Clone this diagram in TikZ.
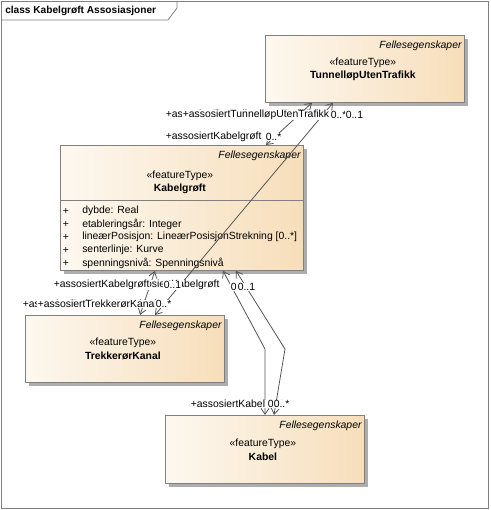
\documentclass[tikz,border=0pt]{standalone}
\usepackage{fontspec}
\setmainfont{Liberation Sans}
\usetikzlibrary{calc,shadows,arrows.meta}

\definecolor{boxleft}{RGB}{253,248,240}
\definecolor{boxright}{RGB}{247,222,186}
\definecolor{boxline}{RGB}{128,128,128}
\definecolor{assocline}{RGB}{85,85,85}
\newcommand{\umlfont}{\fontsize{7.8}{9.5}\selectfont}

\begin{document}
\begin{tikzpicture}[x=0.75pt,y=-0.75pt,font=\umlfont]

	\tikzstyle{classbox}=[draw=boxline,line width=0.6pt,left color=boxleft,right color=boxright,minimum width=199*0.75pt,minimum height=67*0.75pt,anchor=north west,inner sep=0pt,drop shadow={shadow xshift=2.4pt,shadow yshift=-2.4pt,fill=black!32,opacity=1}]
	\tikzstyle{pkg}=[font=\umlfont\itshape,anchor=east,inner sep=0pt]
	\tikzstyle{cname}=[font=\umlfont\bfseries,inner sep=0pt]
	\tikzstyle{assoc}=[assocline,line width=0.6pt,{Straight Barb[length=4.5pt,width=6pt]}-{Straight Barb[length=4.5pt,width=6pt]}]
	\tikzstyle{role}=[anchor=west,fill=white,inner sep=0.4pt]

	\useasboundingbox (0,0) rectangle (490,510);
	\fill[white] (0,0) rectangle (490,510);
	\draw[boxline,line width=0.6pt] (1,1) rectangle (488,508);
	\draw[boxline,line width=0.6pt] (1,20) -- (168,20) -- (177,8) -- (177,1);
	\node[anchor=west,inner sep=0pt,font=\fontsize{7.6}{9}\selectfont\bfseries] (title) at (5,11) {class Kabelgrøft Assosiasjoner};

	\node[classbox] (tunnel) at (265,35) {};
	\node[classbox,minimum width=243*0.75pt,minimum height=125*0.75pt] (kabelgroft) at (60,145) {};
	\node[classbox] (trekkeror) at (25,315) {};
	\node[classbox,minimum height=68*0.75pt] (kabel) at (165,415) {};

	\foreach \b/\n/\d in {tunnel/TunnelløpUtenTrafikk/0,kabelgroft/Kabelgrøft/3,trekkeror/TrekkerørKanal/0,kabel/Kabel/1}{
		\node[pkg] (\b-pkg) at ($(\b.north east)+(-3,11)$) {Fellesegenskaper};
		\node[inner sep=0pt] (\b-st) at ($(\b.north)+(-2,28+\d)$) {«featureType»};
		\node[cname] (\b-name) at ($(\b.north)+(-2,41+\d)$) {\n};
	}

	\draw[boxline,line width=0.6pt] ($(kabelgroft.north west)+(0,55)$) -- ($(kabelgroft.north east)+(0,55)$);
	\foreach \a [count=\i] in {{dybde: Real},{etableringsår: Integer},{lineærPosisjon: LineærPosisjonStrekning [0..*]},{senterlinje: Kurve},{spenningsnivå: Spenningsnivå}}{
		\node[inner sep=0pt] (plus\i) at ($(kabelgroft.north west)+(6,53+13*\i)$) {+};
		\node[anchor=west,inner sep=0pt] (attr\i) at ($(kabelgroft.north west)+(22,53+13*\i)$) {\a};
	}
%
	\coordinate (bend1) at (265,349);
	\coordinate (bend2) at (285,349);
	\draw[assoc] ($(tunnel.south west)+(47,0)$) -- ($(kabelgroft.north west)+(206,0)$);
	\draw[assoc] ($(tunnel.south west)+(68,0)$) -- ($(trekkeror.north west)+(130,0)$);
	\draw[assoc] ($(kabelgroft.south west)+(95,0)$) -- ($(trekkeror.north west)+(115,0)$);
	\draw[assoc] ($(kabelgroft.south west)+(163,0)$) -- (bend1) -- ($(kabel.north west)+(100,0)$);
	\draw[assoc] ($(kabelgroft.south west)+(176,0)$) -- (bend2) -- ($(kabel.north west)+(109,0)$);
%
	\node[role] (r1a) at (165,115) {+assosiertTunnelløpUtenTrafikk};
	\node[role] (r1b) at (182,115) {+assosiertTunnelløpUtenTrafikk};
	\node[role] (m1a) at (330,115) {0..*};
	\node[role] (m1b) at (345,115) {0..1};
	\node[role] (r2) at (165,137) {+assosiertKabelgrøft};
	\node[role] (m2) at (265,137) {0..*};
	\node[role] (r3b) at (123,285) {+assosiertKabelgrøft};
	\node[role] (r3a) at (53,285) {+assosiertKabelgrøft};
	\node[role] (m3) at (163,285) {0..1};
	\node[role] (m4a) at (230,287) {0..1};
	\node[role] (m4b) at (237,287) {0..1};
	\node[role] (r5a) at (22,304) {+assosiertTrekkerørKanal};
	\node[role] (m5a) at (141,304) {0..*};
	\node[role] (r5b) at (37,304) {+assosiertTrekkerørKanal};
	\node[role] (m5b) at (155,304) {0..*};
	\node[role] (r6) at (190,404) {+assosiertKabel};
	\node[role] (m6a) at (267,404) {0..*};
	\node[role] (m6b) at (273,404) {0..*};
\end{tikzpicture}
\end{document}
